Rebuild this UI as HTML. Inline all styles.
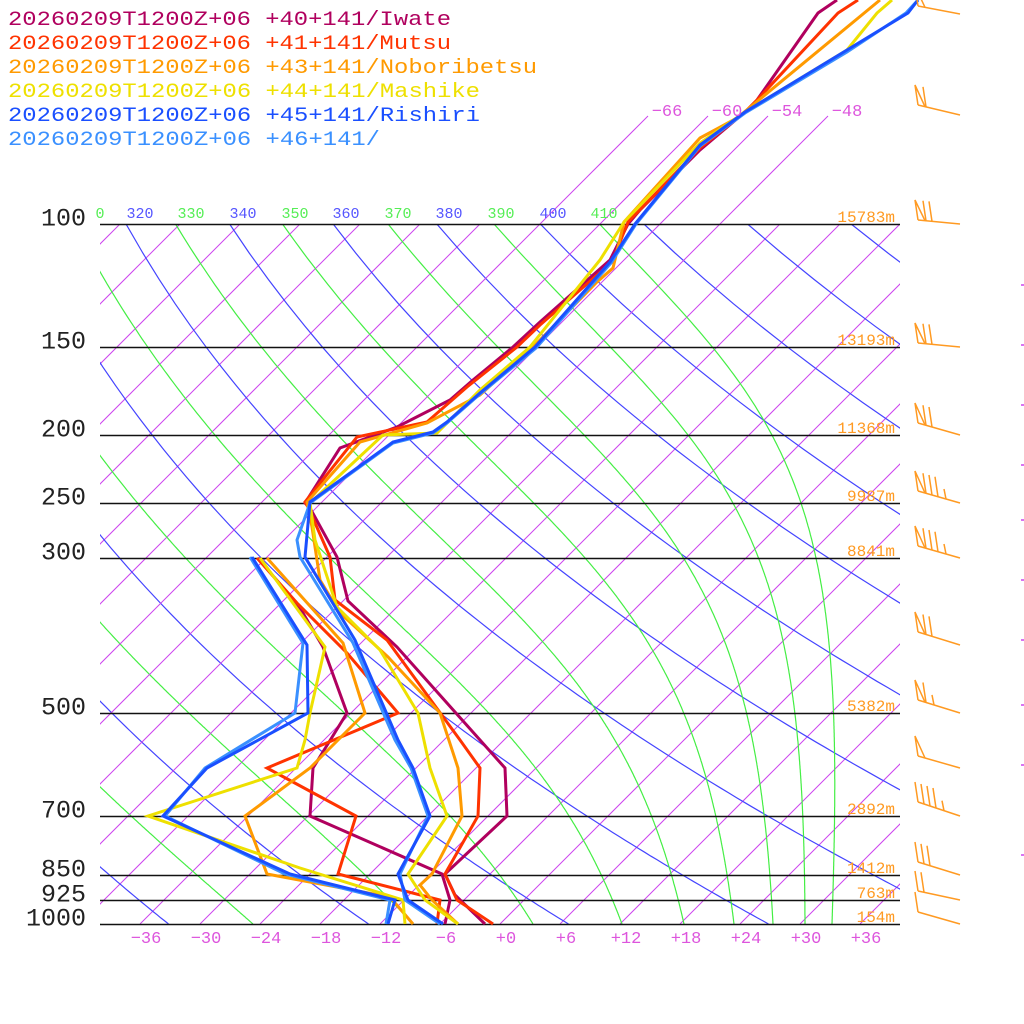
<!DOCTYPE html>
<html><head><meta charset="utf-8"><style>
html,body{margin:0;padding:0;background:#fff;}
svg{display:block;}
text{font-family:"Liberation Mono",monospace;}
</style></head><body>
<svg id="s" width="1024" height="1024" viewBox="0 0 1024 1024" xmlns="http://www.w3.org/2000/svg">
<defs>
<clipPath id="c1"><rect x="100" y="224" width="800" height="700"/></clipPath>
<clipPath id="c2"><rect x="100" y="100" width="800" height="824"/></clipPath>
</defs>
<g id="grid"></g>
<g id="prof"></g>
<g id="txt"></g>
</svg>
<script>
(function(){
var NS="http://www.w3.org/2000/svg";
function el(tag,attrs,parent,text){var e=document.createElementNS(NS,tag);for(var k in attrs)e.setAttribute(k,attrs[k]);if(text!==undefined)e.textContent=text;parent.appendChild(e);return e;}
var grid=document.getElementById('grid'),prof=document.getElementById('prof'),txt=document.getElementById('txt');
var K=304;
function Y(p){return 924-K*Math.log(1000/p);}
function X(T,y){return 500+10*T+(924-y);}
var gc=el('g',{'clip-path':'url(#c1)'},grid);
var gc2=el('g',{'clip-path':'url(#c2)'},grid);
// isotherms
for(var T=-150;T<=60;T+=6){
  var hi=(T>=-66&&T<=-48);
  var yt=hi?116:224;
  el('line',{x1:X(T,924),y1:924,x2:X(T,yt),y2:yt,stroke:'#cc44ee','stroke-width':1},hi?gc2:gc);
}
// dry adiabats
for(var th=200;th<=500;th+=20){
  var pts=[];
  for(var p=100;p<=1000;p+=10){var y=Y(p);var t=th*Math.pow(p/1000,0.2857)-273.15;pts.push(X(t,y).toFixed(1)+','+y.toFixed(1));}
  el('polyline',{points:pts.join(' '),fill:'none',stroke:'#4444ff','stroke-width':1.2},gc);
}
// moist adiabats
function es(Tc){return 6.112*Math.exp(17.67*Tc/(Tc+243.5));}
var T0s=[-40,-24.7,-8.7,3.3,12.2,18.4,23.4,27.3,30.5,33.2];
T0s.forEach(function(t0){
  var Tk=t0+273.15,p=1000,pts=[];
  while(p>=95){
    var y=Y(p);pts.push(X(Tk-273.15,y).toFixed(1)+','+y.toFixed(1));
    var dp=-2;
    for(var i=0;i<4;i++){
      var e=es(Tk-273.15),ws=0.622*e/(p-e);
      var dTdp=(287*Tk+2.5e6*ws)/(p*(1004+2.5e6*2.5e6*ws*0.622/(287*Tk*Tk)));
      Tk+=dTdp*dp/4;p+=dp/4;
    }
  }
  el('polyline',{points:pts.join(' '),fill:'none',stroke:'#44ee44','stroke-width':1.2},gc);
});
// pressure lines
[[100,'100'],[150,'150'],[200,'200'],[250,'250'],[300,'300'],[500,'500'],[700,'700'],[850,'850'],[925,'925'],[1000,'1000']].forEach(function(a){
  var y=Math.round(Y(a[0]))+0.5;
  el('line',{x1:100,y1:y,x2:900,y2:y,stroke:'#111','stroke-width':1.4},grid);
  el('text',{x:86,y:y+1,'text-anchor':'end','font-size':25,fill:'#222','font-weight':'normal'},txt,a[1]);
});
// height labels
[[224,'15783m'],[347,'13193m'],[435,'11368m'],[503,'9987m'],[558,'8841m'],[713,'5382m'],[816,'2892m'],[875,'1412m'],[900,'763m'],[924,'154m']].forEach(function(a){
  el('text',{x:895,y:a[0]-2,'text-anchor':'end','font-size':16,fill:'#ff9a22'},txt,a[1]);
});
// bottom labels
[-36,-30,-24,-18,-12,-6,0,6,12,18,24,30,36].forEach(function(t){
  var s=(t<0?'\u2212'+(-t):'+'+t);
  el('text',{x:506+10*t,y:943,'text-anchor':'middle','font-size':17,fill:'#dd55dd'},txt,s);
});
// top isotherm labels
[[-66,667],[-60,727],[-54,787],[-48,847]].forEach(function(a){
  el('text',{x:a[1],y:116,'text-anchor':'middle','font-size':17,fill:'#dd55dd'},txt,'\u2212'+(-a[0]));
});
// theta labels
el('text',{x:100,y:218,'text-anchor':'middle','font-size':15,fill:'#55ee55'},txt,'0');
[[140,'320','#5555ff'],[191,'330','#55ee55'],[243,'340','#5555ff'],[295,'350','#55ee55'],[346,'360','#5555ff'],[398,'370','#55ee55'],[449,'380','#5555ff'],[501,'390','#55ee55'],[553,'400','#5555ff'],[604,'410','#55ee55']].forEach(function(a){
  el('text',{x:a[0],y:218,'text-anchor':'middle','font-size':15,fill:a[2]},txt,a[1]);
});
// legend
var leg=[['#b0005e','20260209T1200Z+06 +40+141/Iwate'],['#ff3300','20260209T1200Z+06 +41+141/Mutsu'],['#ff9a00','20260209T1200Z+06 +43+141/Noboribetsu'],['#eee000','20260209T1200Z+06 +44+141/Mashike'],['#1a4fff','20260209T1200Z+06 +45+141/Rishiri'],['#3a90ff','20260209T1200Z+06 +46+141/']];
leg.forEach(function(a,i){
  el('text',{x:8,y:25+24*i,'font-size':20,fill:a[0],textLength:(a[1].length*14.3).toFixed(0),lengthAdjust:'spacingAndGlyphs'},txt,a[1]);
});
// profiles
function pl(pts,col){el('polyline',{points:pts.map(function(p){return p.join(',')}).join(' '),fill:'none',stroke:col,'stroke-width':3,'stroke-linejoin':'miter'},prof);}
var P={
iw:{c:'#b0005e',T:[[837,0],[818,13],[757,100],[745,112],[700,150],[640,210],[628,224],[610,260],[540,322],[513,347],[473,380],[450,400],[397,427],[340,448],[305,503],[310,508],[337,557],[348,601],[397,647],[480,740],[505,768],[507,816],[445,874],[455,895],[485,924]],
 D:[[258,558],[300,608],[323,647],[347,713],[313,768],[310,816],[442,874],[450,900],[445,924]]},
mu:{c:'#ff3300',T:[[858,0],[838,13],[757,100],[745,112],[700,148],[628,222],[612,262],[540,325],[517,347],[467,387],[427,422],[357,437],[305,502],[308,507],[330,557],[335,600],[387,640],[460,740],[480,768],[478,816],[445,874],[457,900],[493,924]],
 D:[[257,558],[297,603],[347,653],[398,713],[267,768],[356,816],[338,874],[440,900],[437,924]]},
no:{c:'#ff9a00',T:[[880,0],[737,118],[700,138],[624,222],[613,268],[597,282],[533,347],[480,395],[427,423],[360,442],[307,502],[312,527],[320,580],[340,613],[388,657],[440,713],[458,768],[462,816],[432,874],[420,885],[432,900],[458,924]],
 D:[[267,558],[343,643],[365,713],[310,768],[245,816],[267,874],[390,897],[413,924]]},
ma:{c:'#eee000',T:[[892,0],[877,13],[847,50],[745,112],[700,143],[624,222],[600,260],[530,347],[480,390],[437,433],[383,435],[310,503],[315,540],[337,607],[380,650],[418,713],[430,768],[447,816],[408,874],[425,900],[458,924]],
 D:[[260,558],[325,647],[310,713],[305,740],[297,768],[148,816],[300,868],[403,900],[405,924]]},
ri:{c:'#1a4fff',T:[[918,0],[908,13],[847,50],[745,112],[700,145],[635,224],[610,262],[535,347],[480,393],[447,422],[433,432],[393,442],[310,502],[305,557],[355,640],[398,740],[413,768],[430,816],[398,874],[408,900],[443,924]],
 D:[[252,557],[307,645],[308,713],[207,768],[163,816],[290,874],[395,900],[388,924]]},
lb:{c:'#3a90ff',T:[[918,0],[906,13],[847,52],[745,113],[700,146],[636,224],[611,263],[536,348],[480,394],[447,423],[433,433],[393,443],[310,503],[297,540],[300,557],[353,643],[395,740],[411,768],[428,816],[400,874],[405,900],[440,924]],
 D:[[250,557],[303,643],[295,713],[205,768],[165,816],[285,874],[390,900],[386,924]]}
};
['iw','mu','no','ma','lb','ri'].forEach(function(k){pl(P[k].D,P[k].c);pl(P[k].T,P[k].c);});
// wind barbs
var wb=el('g',{stroke:'#ff9a22','stroke-width':1.5,fill:'none'},txt);
function barb(y,dy,flags,full,half){
  var x0=918,y0=y+dy,x1=960;
  el('line',{x1:x0,y1:y0,x2:x1,y2:y},wb);
  var s=(y-y0)/(x1-x0);var x=x0;
  function sy(x){return y0+(x-x0)*s;}
  for(var i=0;i<flags;i++){el('polyline',{points:x+','+sy(x)+' '+(x-3)+','+(sy(x)-20)+' '+(x+7)+','+sy(x+7)},wb);x+=8;}
  for(var i=0;i<full;i++){el('line',{x1:x,y1:sy(x),x2:x-3,y2:sy(x)-20},wb);x+=6;}
  for(var i=0;i<half;i++){el('line',{x1:x+2,y1:sy(x+2),x2:x,y2:sy(x+2)-10},wb);x+=6;}
}
barb(14,-8,1,0,0);
barb(115,-10,1,1,0);
barb(224,-4,1,2,0);
barb(347,-4,1,2,0);
barb(435,-12,1,2,0);
barb(503,-12,1,3,1);
barb(558,-12,1,3,1);
barb(645,-13,1,2,0);
barb(713,-13,1,1,1);
barb(768,-12,1,0,0);
barb(816,-14,0,4,1);
barb(875,-13,0,3,0);
barb(900,-9,0,2,0);
barb(924,-12,0,1,0);
// right ticks
[285,345,405,465,520,580,640,705,765,855].forEach(function(y){el('line',{x1:1021,y1:y,x2:1024,y2:y,stroke:'#cc44ee','stroke-width':1.5},txt);});
})();
</script>
</body></html>
